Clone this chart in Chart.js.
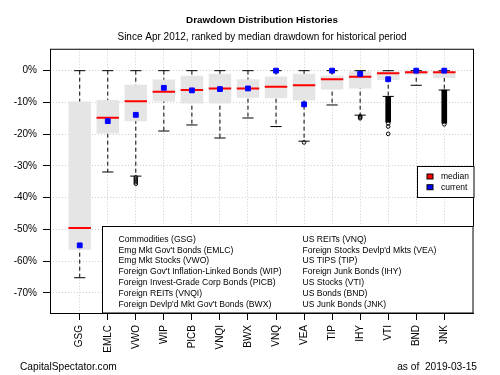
<!DOCTYPE html>
<html>
<head>
<meta charset="utf-8">
<script src="https://cdn.jsdelivr.net/npm/chart.js@4.4.1/dist/chart.umd.min.js"></script>
<style>
  html, body { margin: 0; padding: 0; background: #fff; }
</style>
</head>
<body>
<canvas id="drawdownChart" width="500" height="375"></canvas>
<script>
// --- Data (drawdowns in %) ---
const tickers = ['GSG', 'EMLC', 'VWO', 'WIP', 'PICB', 'VNQI', 'BWX', 'VNQ', 'VEA', 'TIP', 'IHY', 'VTI', 'BND', 'JNK'];
const whiskerHigh = [0, 0, 0, 0, 0, 0, 0, 0, 0, 0, 0, 0, 0, 0];
const boxHigh = [-9.7, -9.2, -4.4, -2.8, -1.6, -1.0, -2.7, -1.8, -1.0, -1.5, -0.2, 0, 0, 0];
const medians = [-49.5, -14.8, -9.6, -6.6, -6.1, -5.6, -5.6, -5.1, -4.6, -2.7, -1.9, -0.8, -0.5, -0.5];
const boxLow = [-56.4, -19.8, -15.9, -9.7, -10.3, -10.3, -8.5, -8.7, -9.4, -5.9, -5.6, -2.9, -1.3, -2.3];
const whiskerLow = [-65.2, -31.9, -33.2, -19.0, -17.1, -21.2, -14.9, -17.6, -22.2, -10.8, -14.0, -8.1, -4.6, -6.1];
const current = [-55.0, -15.9, -13.9, -5.4, -6.2, -5.8, -5.6, 0, -10.6, 0, -1.0, -2.7, 0, 0];

// single outliers and the solid runs of outliers (low, high)
const outliers = {
    VWO: [-33.6, -34.1, -34.6, -35.1, -35.6],
    VEA: [-22.6],
    IHY: [-14.4, -14.7, -15.0],
    VTI: [-16.6, -17.6, -19.9],
    JNK: [-16.9]
};
const denseOutliers = {
    VTI: [-16.2, -8.1],
    JNK: [-16.5, -6.1]
};

const yTicks = [-70, -60, -50, -40, -30, -20, -10, 0];

const descLeft = [
    'Commodities (GSG)',
    "Emg Mkt Gov't Bonds (EMLC)",
    'Emg Mkt Stocks (VWO)',
    "Foreign Gov't Inflation-Linked Bonds (WIP)",
    'Foreign Invest-Grade Corp Bonds (PICB)',
    'Foreign REITs (VNQI)',
    "Foreign Devlp'd Mkt Gov't Bonds (BWX)"
];
const descRight = [
    'US REITs (VNQ)',
    "Foreign Stocks Devlp'd Mkts (VEA)",
    'US TIPS (TIP)',
    'Foreign Junk Bonds (IHY)',
    'US Stocks (VTI)',
    'US Bonds (BND)',
    'US Junk Bonds (JNK)'
];
const markerLegend = ['median', 'current'];

// --- Styling ---
const FONT = '"Liberation Sans", Arial, Helvetica, sans-serif';
const colors = {
    box: '#e5e5e5',
    median: '#ff0000',
    current: '#0000ff',
    grid: '#cfcfcf',
    ink: '#000000'
};

Chart.defaults.font.family = FONT;
Chart.defaults.color = colors.ink;

const xOf = (t) => tickers.indexOf(t) + 1;

// build point lists from the arrays
const boxData = tickers.map((t, i) => ({ x: i + 1, y: [boxLow[i], boxHigh[i]] }));
const medianData = tickers.map((t, i) => ({ x: i + 1, y: medians[i] }));
const currentData = tickers.map((t, i) => ({ x: i + 1, y: current[i] }));
const capData = [];
const whiskerData = [];
tickers.forEach((t, i) => {
    capData.push({ x: i + 1, y: whiskerHigh[i] }, { x: i + 1, y: whiskerLow[i] });
    whiskerData.push({ x: i + 1, y: whiskerHigh[i] }, { x: i + 1, y: whiskerLow[i] }, { x: i + 1, y: null });
});
const outlierData = [];
Object.keys(outliers).forEach(t => outliers[t].forEach(v => outlierData.push({ x: xOf(t), y: v })));
const denseData = Object.keys(denseOutliers).map(t => ({ x: xOf(t), y: denseOutliers[t] }));

// frame, legends and footer
const overlay = {
    id: 'overlay',
    afterDatasetsDraw(chart) {
        const { ctx, chartArea: a } = chart;
        ctx.save();
        ctx.strokeStyle = colors.ink;
        ctx.lineWidth = 1;
        ctx.strokeRect(a.left + 0.5, a.top + 0.5, a.right - a.left - 1, a.bottom - a.top);

        // median / current key
        const kx = Math.round(a.right - 57) + 0.5, ky = Math.round(a.top + 117) + 0.5;
        ctx.fillStyle = '#fff';
        ctx.fillRect(kx, ky, a.right - kx, 31);
        ctx.strokeRect(kx, ky, a.right - kx, 31);
        ctx.font = '8.5px ' + FONT;
        ctx.textBaseline = 'middle';
        ctx.textAlign = 'left';
        [colors.median, colors.current].forEach((c, i) => {
            const cy = ky + 10.5 + i * 10.7;
            ctx.fillStyle = c;
            ctx.fillRect(kx + 9.5, cy - 3, 6, 5);
            ctx.strokeRect(kx + 9.5, cy - 3, 6, 5);
            ctx.fillStyle = colors.ink;
            ctx.fillText(markerLegend[i], kx + 23.5, cy);
        });

        // ticker descriptions
        const dx = Math.round(a.right - 372) + 0.5, dy = Math.round(a.bottom - 87) + 0.5;
        ctx.fillStyle = '#fff';
        ctx.fillRect(dx, dy, a.right - dx, a.bottom - dy);
        ctx.strokeRect(dx, dy, a.right - dx - 1, a.bottom - dy);
        ctx.fillStyle = colors.ink;
        ctx.font = '8.6px ' + FONT;
        descLeft.forEach((s, i) => ctx.fillText(s, dx + 16, dy + 13 + i * 10.8));
        descRight.forEach((s, i) => ctx.fillText(s, dx + 200, dy + 13 + i * 10.8));
        ctx.restore();
    },
    afterDraw(chart) {
        const { ctx } = chart;
        ctx.save();
        ctx.fillStyle = colors.ink;
        ctx.font = '10.2px ' + FONT;
        ctx.textBaseline = 'middle';
        ctx.textAlign = 'left';
        ctx.fillText('CapitalSpectator.com', 20, 367);
        ctx.textAlign = 'right';
        ctx.fillText('as of  2019-03-15', 477, 367);
        ctx.restore();
    }
};

const ctx = document.getElementById('drawdownChart').getContext('2d');

new Chart(ctx, {
    type: 'scatter',
    data: {
        datasets: [
            {
                label: 'current',
                data: currentData,
                pointStyle: 'rect',
                pointRadius: 3.4,
                backgroundColor: colors.current,
                borderColor: colors.current,
                borderWidth: 1,
                order: 0
            },
            {
                label: 'median',
                data: medianData,
                pointStyle: 'line',
                pointRadius: 11.2,
                borderColor: colors.median,
                borderWidth: 2,
                order: 1
            },
            {
                label: 'outliers',
                data: outlierData,
                pointStyle: 'circle',
                pointRadius: 1.8,
                backgroundColor: 'rgba(0,0,0,0)',
                borderColor: colors.ink,
                borderWidth: 1,
                order: 2
            },
            {
                type: 'bar',
                label: 'dense outliers',
                data: denseData,
                backgroundColor: colors.ink,
                barThickness: 5,
                grouped: false,
                order: 3
            },
            {
                label: 'caps',
                data: capData,
                pointStyle: 'line',
                pointRadius: 5.6,
                borderColor: colors.ink,
                borderWidth: 1,
                order: 4
            },
            {
                type: 'bar',
                label: 'box',
                data: boxData,
                backgroundColor: colors.box,
                borderWidth: 0,
                categoryPercentage: 1,
                barPercentage: 0.8,
                grouped: false,
                order: 5
            },
            {
                type: 'line',
                label: 'whiskers',
                data: whiskerData,
                showLine: true,
                spanGaps: false,
                borderColor: colors.ink,
                borderWidth: 1,
                borderDash: [4, 3],
                pointRadius: 0,
                fill: false,
                order: 6
            }
        ]
    },
    options: {
        responsive: false,
        animation: false,
        events: [],
        layout: { padding: { left: 0, right: 26, top: 0, bottom: 0 } },
        scales: {
            x: {
                type: 'linear',
                min: -0.06,
                max: 15.06,
                offset: false,
                afterFit: (scale) => { scale.height = 62; },
                afterBuildTicks: (scale) => { scale.ticks = tickers.map((t, i) => ({ value: i + 1 })); },
                grid: {
                    offset: false,
                    color: colors.grid,
                    tickColor: colors.ink,
                    tickLength: 7,
                    tickBorderDash: []
                },
                border: { display: false, dash: [1, 2] },
                ticks: {
                    autoSkip: false,
                    minRotation: 90,
                    maxRotation: 90,
                    padding: 5,
                    font: { size: 10 },
                    callback: (v) => tickers[v - 1]
                }
            },
            y: {
                type: 'linear',
                min: -76.3,
                max: 6.9,
                afterFit: (scale) => { scale.width = 50; },
                afterBuildTicks: (scale) => { scale.ticks = yTicks.map(v => ({ value: v })); },
                grid: {
                    color: colors.grid,
                    tickColor: colors.ink,
                    tickLength: 7,
                    tickBorderDash: []
                },
                border: { display: false, dash: [1, 2] },
                ticks: {
                    padding: 6,
                    font: { size: 10 },
                    callback: (v) => v + '%'
                }
            }
        },
        plugins: {
            legend: { display: false },
            tooltip: { enabled: false },
            title: {
                display: true,
                text: 'Drawdown Distribution Histories',
                fullSize: false,
                color: colors.ink,
                font: { size: 9.8, weight: 'bold' },
                padding: { top: 14, bottom: 0 }
            },
            subtitle: {
                display: true,
                text: 'Since Apr 2012, ranked by median drawdown for historical period',
                fullSize: false,
                color: colors.ink,
                font: { size: 10 },
                padding: { top: 5, bottom: 6 }
            }
        }
    },
    plugins: [overlay]
});
</script>
</body>
</html>
